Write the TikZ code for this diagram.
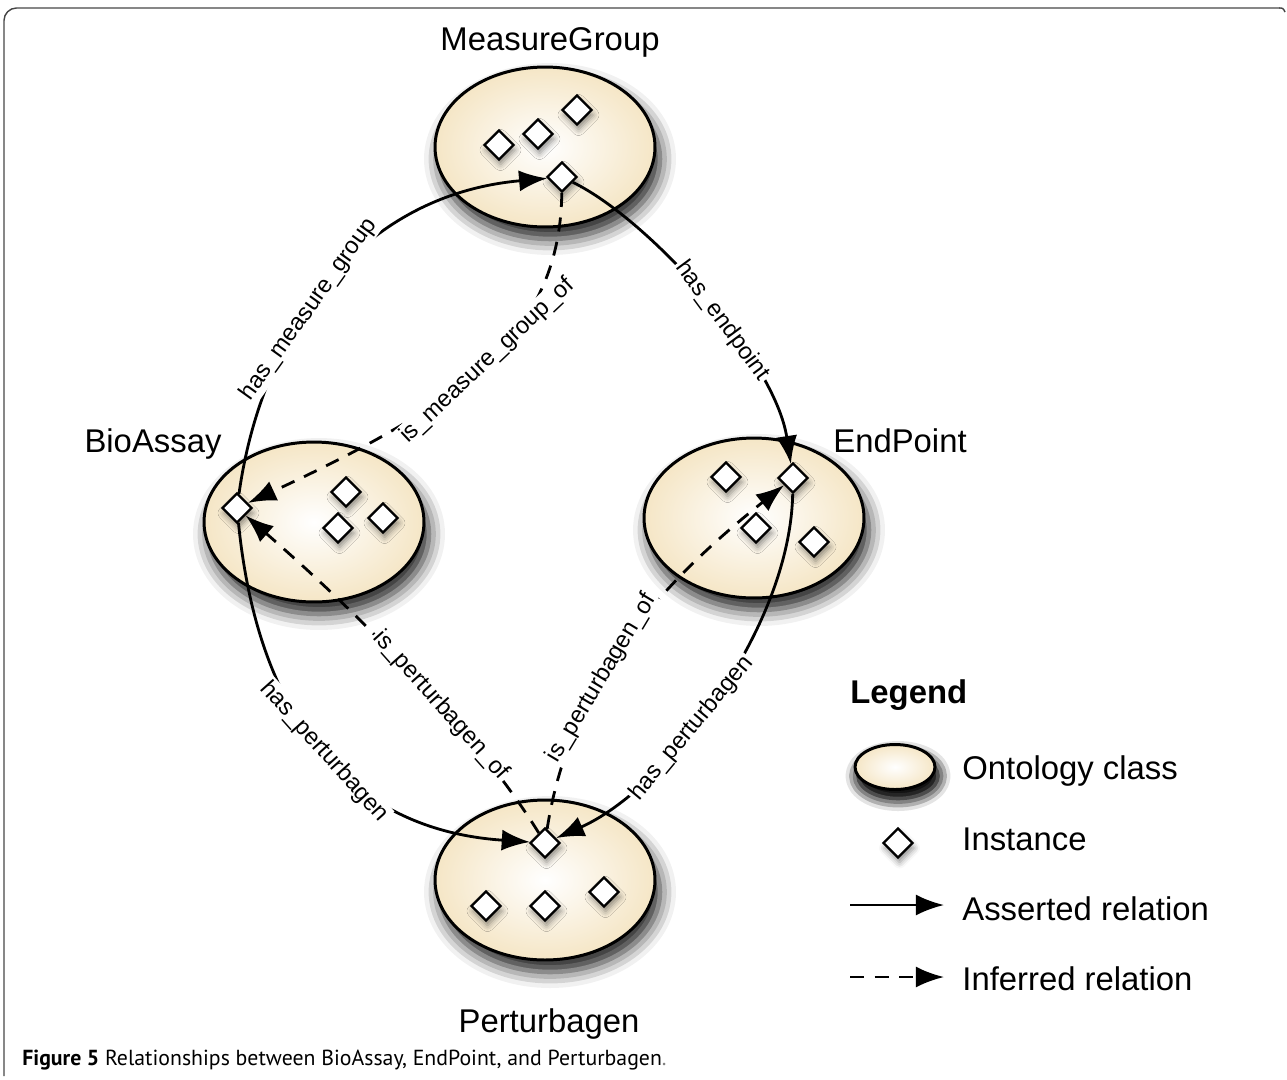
\documentclass[tikz,border=0pt]{standalone}
\usepackage{fontspec}
\setmainfont{Liberation Sans}
\newfontfamily\capfont{PT Sans}
\usetikzlibrary{shapes.geometric,arrows.meta,shadows.blur}
\definecolor{classtan}{RGB}{245,230,198}
\definecolor{framegray}{RGB}{70,70,70}
\tikzset{%
    ontclass/.style={%
        ellipse,
        draw,
        line width=1.7pt,
        inner color=white,
        outer color=classtan,
        minimum width=4.4cm,
        minimum height=3.2cm,
        blur shadow={shadow xshift=0.1cm, shadow yshift=-0.24cm,
            shadow blur radius=0.32cm, shadow opacity=90}
    },
    inst/.style={%
        diamond,
        draw,
        fill=white,
        line width=1.3pt,
        inner sep=0pt,
        minimum size=0.6cm,
        blur shadow={shadow xshift=0.03cm, shadow yshift=-0.1cm,
            shadow blur radius=0.12cm, shadow opacity=45}
    },
    rel/.style={line width=1.6pt, -{Latex[length=16pt,width=12pt]}},
    inf/.style={rel, dash pattern=on 8pt off 6pt},
    lbl/.style={sloped, fill=white, inner sep=1pt,
        font=\fontsize{13.5}{16}\selectfont},
    classname/.style={anchor=base, font=\fontsize{18.7}{22}\selectfont},
    legtext/.style={anchor=base west, inner sep=0pt, font=\fontsize{18.7}{22}\selectfont}
}
\begin{document}
\begin{tikzpicture}[x=0.02cm, y=-0.02cm]
\useasboundingbox (0,0) rectangle (1287,1079);
% frame and caption
\draw[framegray, line width=0.8pt, rounded corners=0.25cm]
    (4,1076) -- (4,8) -- (1280,8);
\draw[framegray, line width=0.8pt] (1279,8) .. controls (1283,8) .. (1285,12);
\node[anchor=base west, inner sep=0pt, font=\capfont\fontsize{12.4}{14}\selectfont] (caption)
    at (22,1065) {\textbf{Figure 5} Relationships between BioAssay, EndPoint, and Perturbagen{\color{gray}.}};

% classes
\node[ontclass] (mg) at (545,147) {};
\node[ontclass] (ba) at (314,522) {};
\node[ontclass] (ep) at (754,518) {};
\node[ontclass] (pb) at (545,880) {};
\node[classname] (mgname) at (550,50) {MeasureGroup};
\node[classname] (baname) at (153,452) {BioAssay};
\node[classname] (epname) at (900,452) {EndPoint};
\node[classname] (pbname) at (549,1032) {Perturbagen};

% instances
\node[inst] (mgi) at (562,177) {};
\node[inst] (mg2) at (499,145) {};
\node[inst] (mg3) at (538,134) {};
\node[inst] (mg4) at (577,110) {};
\node[inst] (bai) at (237,508) {};
\node[inst] (ba2) at (346,492) {};
\node[inst] (ba3) at (338,528) {};
\node[inst] (ba4) at (383,518) {};
\node[inst] (epi) at (793,478) {};
\node[inst] (ep2) at (726,477) {};
\node[inst] (ep3) at (756,528) {};
\node[inst] (ep4) at (814,542) {};
\node[inst] (pbi) at (545,843) {};
\node[inst] (pb2) at (486,906) {};
\node[inst] (pb3) at (545,906) {};
\node[inst] (pb4) at (604,892) {};

% relations
\draw[rel] (bai) .. controls (262,330) and (360,195) .. (mgi)
    node[lbl, pos=0.42] (hasmg) {has\_measure\_group};
\draw[inf] (mgi) .. controls (560,330) and (470,400) .. (bai)
    node[lbl, pos=0.5] (ismg) {is\_measure\_group\_of};
\draw[rel] (mgi) .. controls (650,220) and (775,360) .. (epi)
    node[lbl, pos=0.57] (hasep) {has\_endpoint};
\draw[rel] (bai) .. controls (258,720) and (350,830) .. (pbi)
    node[lbl, pos=0.5] (haspb1) {has\_perturbagen};
\draw[inf] (pbi) .. controls (475,730) and (360,615) .. (bai)
    node[lbl, pos=0.4] (ispb1) {is\_perturbagen\_of};
\draw[inf] (pbi) .. controls (570,680) and (665,580) .. (epi)
    node[lbl, pos=0.38] (ispb2) {is\_perturbagen\_of};
\draw[rel] (epi) .. controls (790,630) and (665,790) .. (pbi)
    node[lbl, pos=0.58] (haspb2) {has\_perturbagen};

% legend
\node[anchor=base west, inner sep=0pt, font=\bfseries\fontsize{18.7}{22}\selectfont] (legend) at (850,703) {Legend};
\node[ontclass, minimum width=1.6cm, minimum height=0.9cm,
    blur shadow={shadow xshift=0.06cm, shadow yshift=-0.18cm,
    shadow blur radius=0.25cm, shadow opacity=90}] (legclass) at (895,767) {};
\node[legtext] (legclasstext) at (962,779) {Ontology class};
\node[inst] (leginst) at (898,843) {};
\node[legtext] (leginsttext) at (962,850) {Instance};
\coordinate (la1) at (850,905);
\coordinate (la2) at (944,905);
\draw[rel] (la1) -- (la2);
\node[legtext] (legreltext) at (962,920) {Asserted relation};
\coordinate (li1) at (850,977);
\coordinate (li2) at (944,977);
\draw[inf] (li1) -- (li2);
\node[legtext] (leginftext) at (962,990) {Inferred relation};
\end{tikzpicture}
\end{document}
